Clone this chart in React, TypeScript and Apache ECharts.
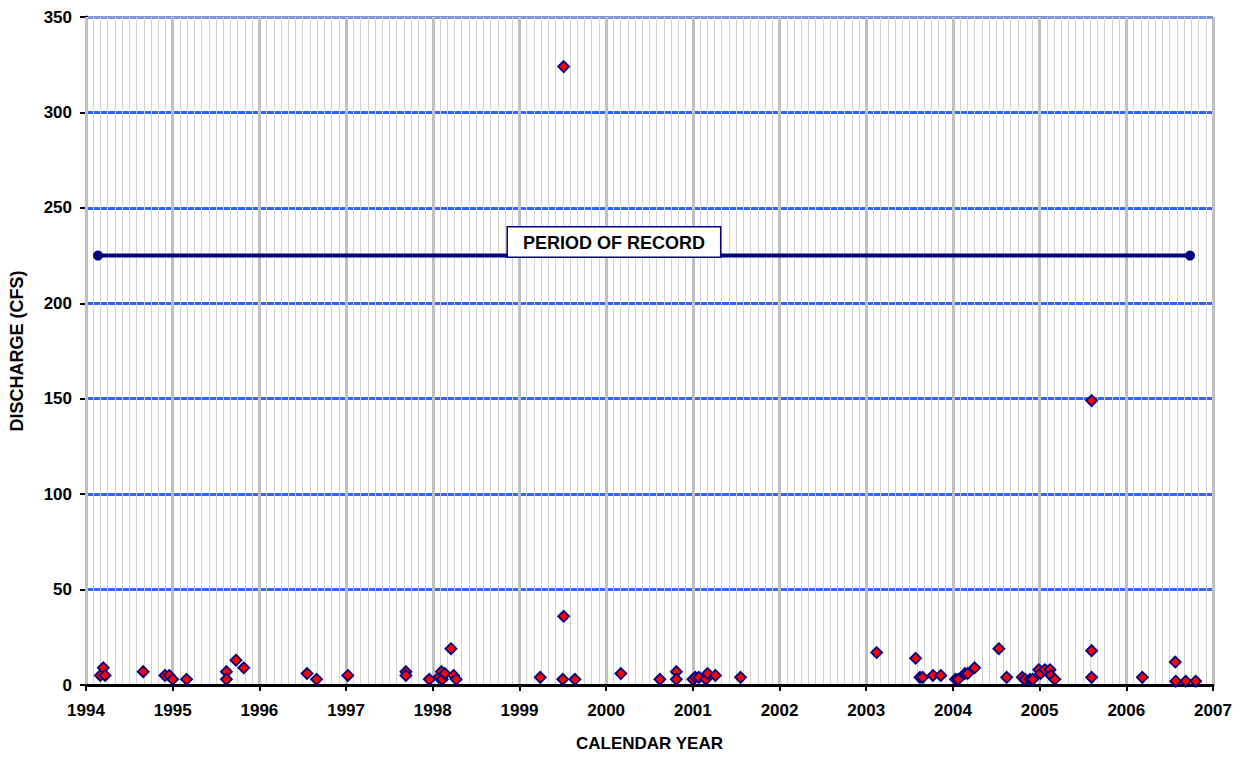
import React, { useEffect, useRef } from "react";
import * as echarts from "echarts";

// Sample dates (decimal calendar year) and measured discharge (CFS)
const sampleDates: number[] = [
  1994.165, 1994.2, 1994.22, 1994.66, 1994.91, 1994.96, 1995.0, 1995.16,
  1995.62, 1995.62, 1995.73, 1995.82, 1996.55, 1996.66, 1997.02, 1997.69,
  1997.69, 1997.96, 1998.07, 1998.1, 1998.11, 1998.14, 1998.21, 1998.24,
  1998.27, 1999.24, 1999.5, 1999.51, 1999.51, 1999.64, 2000.17, 2000.62,
  2000.81, 2000.81, 2001.0, 2001.03, 2001.07, 2001.15, 2001.17, 2001.26,
  2001.55, 2003.12, 2003.57, 2003.62, 2003.65, 2003.77, 2003.86, 2004.03,
  2004.06, 2004.14, 2004.17, 2004.25, 2004.53, 2004.62, 2004.8, 2004.83,
  2004.89, 2004.92, 2004.99, 2005.01, 2005.06, 2005.12, 2005.13, 2005.175,
  2005.6, 2005.6, 2005.6, 2006.185, 2006.565, 2006.57, 2006.685, 2006.8,
];
const dischargeCfs: number[] = [
  5, 9, 5, 7, 5, 5, 3, 3,
  7, 3, 13, 9, 6, 3, 5, 7,
  5, 3, 4, 7, 3, 6, 19, 5,
  3, 4, 3, 36, 324, 3, 6, 3,
  7, 3, 3, 4, 4, 3, 6, 5,
  4, 17, 14, 4, 4, 5, 5, 3,
  3, 6, 6, 9, 19, 4, 4, 3,
  3, 3, 8, 6, 8, 8, 5, 3,
  18, 149, 4, 4, 12, 2, 2, 2,
];

// Period of record bar
const periodStart = 1994.138;
const periodEnd = 2006.735;
const periodLevel = 225;
const periodLabel = "PERIOD OF RECORD";
const periodLabelAt = 2000.09;

// Axes
const yearMin = 1994;
const yearMax = 2007;
const cfsMin = 0;
const cfsMax = 350;
const cfsStep = 50;
const xTitle = "CALENDAR YEAR";
const yTitle = "DISCHARGE (CFS)";

const FONT = "'Liberation Sans', Arial, sans-serif";

export default function App() {
  const ref = useRef<HTMLDivElement>(null);

  useEffect(() => {
    document.body.style.margin = "0";
    if (!ref.current) return;
    const chart = echarts.init(ref.current, undefined, { renderer: "svg" });

    const points = sampleDates.map((d, i) => [d, dischargeCfs[i]]);
    const hLineColors = ["#3366ff", "#3366ff", "#3366ff", "#3366ff", "#3366ff", "#3366ff", "#3366ff", "#7f96d8"];

    chart.setOption({
      animation: false,
      backgroundColor: "#ffffff",
      textStyle: { fontFamily: FONT },
      grid: { left: 85, right: 31, top: 17, bottom: 74, containLabel: false },
      xAxis: {
        type: "value",
        min: yearMin,
        max: yearMax,
        interval: 1,
        z: 2,
        name: xTitle,
        nameLocation: "middle",
        nameGap: 50,
        nameTextStyle: { fontFamily: FONT, fontWeight: "bold", fontSize: 17, color: "#000" },
        axisLine: { show: true, onZero: false, lineStyle: { color: "#000", width: 3 } },
        axisTick: { show: true, length: 6, lineStyle: { color: "#000", width: 2 } },
        axisLabel: {
          fontFamily: FONT,
          fontWeight: "bold",
          fontSize: 17,
          color: "#000",
          margin: 17,
          formatter: (v: number) => String(v),
        },
        splitLine: { show: true, lineStyle: { color: "#c0c0c0", width: 3 } },
        minorTick: { show: false, splitNumber: 12 },
        minorSplitLine: { show: true, lineStyle: { color: "#d2d2d2", width: 1 } },
      },
      yAxis: {
        type: "value",
        min: cfsMin,
        max: cfsMax,
        interval: cfsStep,
        z: 1,
        name: yTitle,
        nameLocation: "middle",
        nameGap: 60,
        nameRotate: 90,
        nameTextStyle: { fontFamily: FONT, fontWeight: "bold", fontSize: 18, color: "#000" },
        axisLine: { show: true, lineStyle: { color: "#000", width: 3 } },
        axisTick: { show: true, length: 6, lineStyle: { color: "#000", width: 2 } },
        axisLabel: {
          fontFamily: FONT,
          fontWeight: "bold",
          fontSize: 17,
          color: "#000",
          margin: 14,
        },
        splitLine: { show: true, lineStyle: { color: hLineColors, width: 3 } },
      },
      series: [
        {
          type: "line",
          z: 5,
          data: [
            [periodStart, periodLevel],
            [periodEnd, periodLevel],
          ],
          symbol: "circle",
          symbolSize: 10,
          lineStyle: { color: "#000080", width: 4 },
          itemStyle: { color: "#000080", opacity: 1 },
        },
        {
          type: "scatter",
          z: 6,
          data: [[periodLabelAt, periodLevel]],
          symbolSize: 0,
          silent: true,
          itemStyle: { opacity: 1 },
          label: {
            show: true,
            position: "top",
            distance: -1,
            formatter: periodLabel,
            fontFamily: FONT,
            fontWeight: "bold",
            fontSize: 18,
            lineHeight: 20,
            color: "#000000",
            opacity: 1,
            backgroundColor: "#ffffff",
            borderColor: "#000080",
            borderWidth: 1.5,
            padding: [5, 15, 4, 15],
          },
        },
        {
          type: "scatter",
          z: 7,
          data: points,
          symbol: "diamond",
          symbolSize: 11,
          itemStyle: { color: "#ff0000", borderColor: "#000080", borderWidth: 1.8, opacity: 1 },
        },
      ],
    });

    return () => chart.dispose();
  }, []);

  return <div ref={ref} style={{ width: 1244, height: 759 }} />;
}
